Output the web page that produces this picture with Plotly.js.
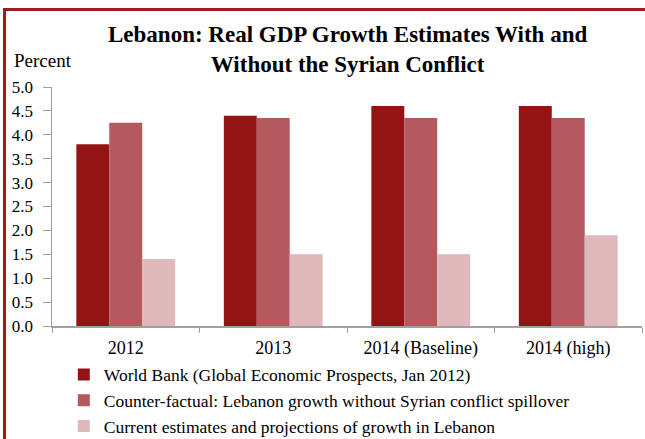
<!DOCTYPE html>
<html><head><meta charset="utf-8">
<script src="https://cdn.plot.ly/plotly-3.0.1.min.js"></script>
<style>body{margin:0;background:#fff}#c{width:645px;height:439px}</style>
</head><body><div id="c"></div>
<script>
const categories = ["2012", "2013", "2014 (Baseline)", "2014 (high)"];
const worldBank = [3.8, 4.4, 4.6, 4.6];
const counterFactual = [4.25, 4.35, 4.35, 4.35];
const current = [1.4, 1.5, 1.5, 1.9];
const seriesNames = [
  "World Bank (Global Economic Prospects, Jan 2012)",
  "Counter-factual: Lebanon growth without Syrian conflict spillover",
  "Current estimates and projections of growth in Lebanon"
];
const titleLines = ["Lebanon: Real GDP Growth Estimates With and", "Without the Syrian Conflict"];
const colors = ["#941416", "#B4595D", "#DEB8BA"];
const serif = "Liberation Serif, Times New Roman, serif";

const data = [worldBank, counterFactual, current].map((v, i) => ({
  type: "bar", x: categories, y: v, name: seriesNames[i],
  marker: {color: colors[i], line: {width: 0}}
}));

const layout = {
  width: 645, height: 439,
  margin: {l: 52, r: 3, t: 87, b: 113, autoexpand: false},
  paper_bgcolor: "#fff", plot_bgcolor: "#fff",
  barmode: "group", bargap: 0.33, bargroupgap: 0,
  font: {family: serif, size: 18, color: "#000"},
  xaxis: {type: "category", showline: true, linecolor: "#A0A0A0", linewidth: 2,
          ticks: "outside", tickson: "boundaries", ticklen: 5, tickcolor: "#A0A0A0",
          showgrid: false, tickfont: {family: serif, size: 18, color: "#000"}, ticklabelstandoff: 4},
  yaxis: {range: [0, 5], dtick: 0.5, tickformat: ".1f", showline: true, linecolor: "#A0A0A0",
          linewidth: 1.5, ticks: "outside", ticklen: 8, tickcolor: "#A0A0A0", showgrid: false,
          zeroline: false, tickfont: {family: serif, size: 17, color: "#000"}, ticklabelstandoff: 6},
  showlegend: true,
  legend: {orientation: "v", x: 0.02, xanchor: "left", y: -0.128, yanchor: "top",
           font: {family: serif, size: 17.5, color: "#000"}, tracegroupgap: 0, itemwidth: 30,
           bgcolor: "rgba(0,0,0,0)"},
  annotations: [
    {text: "<b>" + titleLines.join("<br>") + "</b>", xref: "paper", yref: "paper", x: 0.5, y: 1.157,
     xanchor: "center", yanchor: "middle", showarrow: false,
     font: {family: serif, size: 23, color: "#000"}},
    {text: "Percent", xref: "paper", yref: "paper", x: -0.068, y: 1.109,
     xanchor: "left", yanchor: "middle", showarrow: false,
     font: {family: serif, size: 19, color: "#000"}}
  ],
  shapes: [
    {type: "line", xref: "paper", yref: "paper", x0: -0.0805, x1: -0.0805, y0: 1.326, y1: -0.6,
     line: {color: "#9B1B1E", width: 3}},
    {type: "line", xref: "paper", yref: "paper", x0: -0.083, x1: 1.1, y0: 1.324, y1: 1.324,
     line: {color: "#9B1B1E", width: 3}}
  ]
};
Plotly.newPlot("c", data, layout, {displayModeBar: false, staticPlot: true});
</script></body></html>
